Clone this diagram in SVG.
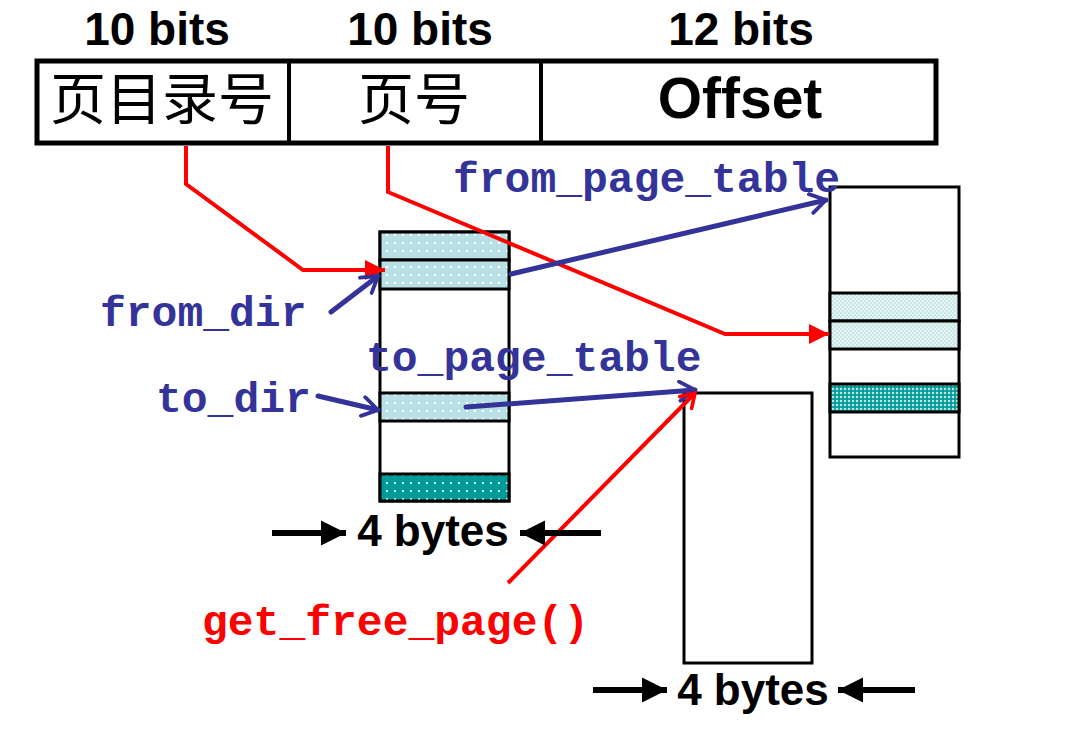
<svg xmlns="http://www.w3.org/2000/svg" width="1082" height="742" viewBox="0 0 1082 742">
<defs>
<pattern id="dotLight" width="8" height="8" patternUnits="userSpaceOnUse">
<rect width="8" height="8" fill="#b9e0e4"/>
<rect x="2" y="2" width="2" height="2" fill="#ffffff"/>
</pattern>
<pattern id="dotTeal" width="8" height="8" patternUnits="userSpaceOnUse">
<rect width="8" height="8" fill="#009a99"/>
<rect x="2" y="2" width="2" height="2" fill="#cfeeee"/>
</pattern>
<pattern id="chkLight" width="4" height="4" patternUnits="userSpaceOnUse">
<rect width="4" height="4" fill="#e6f4f4"/>
<rect width="2" height="2" fill="#c6e6e8"/>
<rect x="2" y="2" width="2" height="2" fill="#c6e6e8"/>
</pattern>
<pattern id="chkTeal" width="4" height="4" patternUnits="userSpaceOnUse">
<rect width="4" height="4" fill="#19a6a4"/>
<rect width="2" height="2" fill="#b8e4e2"/>
<rect x="2" y="2" width="2" height="2" fill="#009a99"/>
</pattern>
<marker id="redHead" viewBox="0 0 10 10" refX="10" refY="5" markerWidth="5" markerHeight="5" markerUnits="strokeWidth" orient="auto">
<path d="M0,0 L10,5 L0,10 z" fill="#ff0000"/>
</marker>
<marker id="blackHead" viewBox="0 0 10 10" refX="10" refY="5" markerWidth="4.2" markerHeight="4.2" markerUnits="strokeWidth" orient="auto">
<path d="M0,0 L10,5 L0,10 z" fill="#000000"/>
</marker>
<marker id="blueHead" viewBox="0 0 12 12" refX="10" refY="6" markerWidth="4.6" markerHeight="4.6" markerUnits="strokeWidth" orient="auto">
<path d="M2,1 L10,6 L2,11" fill="none" stroke="#333399" stroke-width="2" stroke-linecap="round" stroke-linejoin="round"/>
</marker>
<marker id="redOpen" viewBox="0 0 12 12" refX="10" refY="6" markerWidth="5" markerHeight="5" markerUnits="strokeWidth" orient="auto">
<path d="M2,1 L10,6 L2,11" fill="none" stroke="#ff0000" stroke-width="2.2" stroke-linecap="round" stroke-linejoin="round"/>
</marker>
</defs>
<style>
.box{fill:#ffffff;stroke:#000000;stroke-width:3}
.cell{stroke:#000000;stroke-width:3}
.hdr{font-family:"Liberation Sans",Arial,sans-serif;font-weight:bold;fill:#000000;text-anchor:middle}
.cjk{font-family:"Noto Sans CJK SC","Noto Sans CJK JP",sans-serif;font-size:56px;fill:#000000;text-anchor:middle}
.code{font-family:"Liberation Mono","Courier New",monospace;font-weight:bold;font-size:43px}
.blue{fill:#333399}
.red{fill:#ff0000}
.redline{fill:none;stroke:#ff0000;stroke-width:4;stroke-linejoin:miter}
.blueline{fill:none;stroke:#333399;stroke-width:5;stroke-linecap:round}
.blackline{fill:none;stroke:#000000;stroke-width:6}
</style>

<g id="header">
<text class="hdr" x="157" y="45" font-size="46">10 bits</text>
<text class="hdr" x="420" y="45" font-size="46">10 bits</text>
<text class="hdr" x="741" y="45" font-size="46">12 bits</text>
</g>

<g id="address">
<rect x="37" y="61" width="899" height="82" fill="#ffffff" stroke="#000000" stroke-width="5"/>
<line x1="289" y1="61" x2="289" y2="143" stroke="#000000" stroke-width="4"/>
<line x1="541" y1="61" x2="541" y2="143" stroke="#000000" stroke-width="4"/>
<text class="cjk" x="162" y="119">页目录号</text>
<text class="cjk" x="414" y="119">页号</text>
<text class="hdr" x="740" y="118" font-size="57">Offset</text>
</g>

<g id="page_dir">
<rect class="box" x="380" y="232" width="129" height="269"/>
<rect class="cell" x="380" y="232" width="129" height="28" fill="url(#dotLight)"/>
<rect class="cell" x="380" y="260" width="129" height="29" fill="url(#dotLight)"/>
<rect class="cell" x="380" y="393" width="129" height="28" fill="url(#dotLight)"/>
<rect class="cell" x="380" y="474" width="129" height="27" fill="url(#dotTeal)"/>
</g>

<g id="page_table">
<rect class="box" x="830" y="187" width="129" height="270"/>
<rect class="cell" x="830" y="293" width="129" height="28" fill="url(#chkLight)"/>
<rect class="cell" x="830" y="321" width="129" height="28" fill="url(#chkLight)"/>
<rect class="cell" x="830" y="384" width="129" height="28" fill="url(#chkTeal)"/>
</g>

<g id="free_page">
<rect class="box" x="684" y="393" width="128" height="270"/>
</g>

<g id="labels">
<text class="code blue" x="453" y="192">from_page_table</text>
<text class="code blue" x="100" y="326">from_dir</text>
<text class="code blue" x="366" y="371">to_page_table</text>
<text class="code blue" x="156" y="412">to_dir</text>
<text class="code red" x="202" y="635">get_free_page()</text>
<text class="hdr" x="433" y="546" font-size="44">4 bytes</text>
<text class="hdr" x="753" y="705" font-size="44">4 bytes</text>
</g>

<g id="connectors">
<polyline class="redline" points="186,146 186,184 303,270 385,270" marker-end="url(#redHead)"/>
<polyline class="redline" points="388,146 388,192 725,334 829,334" marker-end="url(#redHead)"/>
<line class="blueline" x1="511" y1="274" x2="826" y2="200" marker-end="url(#blueHead)"/>
<line class="blueline" x1="331" y1="312" x2="378" y2="276" marker-end="url(#blueHead)"/>
<line class="blueline" x1="318" y1="396" x2="378" y2="410" marker-end="url(#blueHead)"/>
<line class="blueline" x1="466" y1="407" x2="695" y2="390" marker-end="url(#blueHead)"/>
<line class="redline" x1="508" y1="583" x2="695" y2="393" marker-end="url(#redOpen)"/>
<line class="blackline" x1="272" y1="533" x2="346" y2="533" marker-end="url(#blackHead)"/>
<line class="blackline" x1="601" y1="533" x2="520" y2="533" marker-end="url(#blackHead)"/>
<line class="blackline" x1="593" y1="690" x2="667" y2="690" marker-end="url(#blackHead)"/>
<line class="blackline" x1="915" y1="690" x2="838" y2="690" marker-end="url(#blackHead)"/>
</g>
</svg>
